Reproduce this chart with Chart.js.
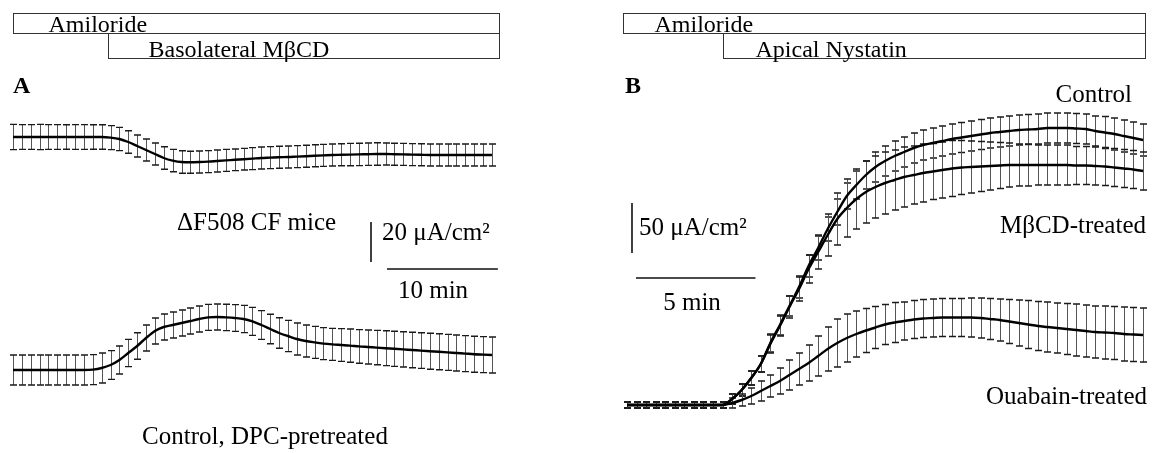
<!DOCTYPE html>
<html lang="en">
<head>
<meta charset="UTF-8">
<title>Short-circuit current traces</title>
<script src="https://cdn.jsdelivr.net/npm/chart.js"></script>
<style>
  body { margin: 0; background: #fff; }
  #wrap { position: relative; width: 1160px; height: 453px; }
  canvas { position: absolute; top: 0; }
  #chartA { left: 0; }
  #chartB { left: 580px; }
</style>
</head>
<body>
<div id="wrap">
  <canvas id="chartA" width="580" height="453"></canvas>
  <canvas id="chartB" width="580" height="453"></canvas>
</div>
<script>
// ---- panel A (uA/cm2, one sample every 0.8 min) ----
const minPerSampleA = 0.8;
const cfMean = [0,0,0,0,0,0,0,0,0,0,0,
  -0.3,-1,-2.5,-4.5,-6.5,-8.5,-10.5,-11.8,-12.5,-12.6,
  -12.5,-12.3,-12,-11.7,-11.4,-11.1,-10.8,-10.5,-10.3,-10.1,
  -10,-9.8,-9.6,-9.4,-9.2,-9,-8.9,-8.8,-8.7,-8.6,
  -8.5,-8.5,-8.6,-8.7,-8.8,-8.9,-9,-9,-9,-9,
  -9,-9,-9,-9];
const cfSem = [6.3,6.2,6.2,6.3,6.2,6.2,6.1,6.2,6.2,6.1,6.1,
  6,5.8,5.6,5.5,5.5,5.5,5.6,5.6,5.6,5.5,
  5.5,5.5,5.5,5.5,5.4,5.4,5.5,5.5,5.5,5.5,
  5.5,5.5,5.5,5.5,5.5,5.5,5.5,5.6,5.6,5.6,
  5.6,5.5,5.5,5.5,5.5,5.5,5.5,5.5,5.5,5.5,
  5.5,5.5,5.5,5.5];
const dpcMean = [0,0,0,0,0,0,0,0,0,0.2,1,
  2.5,5,8.5,12,16,19.5,21.5,22.5,23.5,24.5,
  25.5,26.3,26.5,26.3,26,25.5,24.3,22.5,20.5,18.5,
  17,15.5,14.5,13.8,13.2,12.8,12.5,12.2,11.8,11.5,
  11.2,10.9,10.6,10.3,10,9.7,9.4,9.1,8.8,8.5,
  8.2,7.9,7.7,7.5];
const dpcSem = [7.5,7.5,7.5,7.5,7.5,7.5,7.5,7.5,7.5,7.5,7.5,
  7.2,7,6.8,6.6,6.5,6.5,6.5,6.5,6.5,6.5,
  6.5,6.5,6.5,6.6,6.7,6.8,7,7.2,7.4,7.6,
  7.8,8,8,8,8,8,8.2,8.3,8.4,8.5,
  8.6,8.7,8.8,8.8,8.9,8.9,9,9,9,9,
  9,9,9,9];
const drugsA = [
  { label: 'Amiloride', start: 0, end: 43.8 },
  { label: 'Basolateral MβCD', start: 8.6, end: 43.8 }
];

// ---- panel B (uA/cm2, one sample every 0.4 min) ----
const minPerSampleB = 0.4;
const controlMean = [0,0,0,0,0,0,0,0,0,0,0,
  6,15,27,41,62,80,99,118,139,157,
  176,193,209,220,230,238,244,249,253,257,
  260,262,264,266,267.5,269,270.5,272,273,274,
  275,275.5,276,277,277,277,276.5,276,274,272.5,
  271,269,267,265];
const controlSem = [3,3,3,3,3,3,3,3,3,3,3,
  5,6,7,8,9,10,10,11,11,12,
  12,13,13,14,14,15,15,15,15,15,
  15,15,15,15,15,15,15,15,15,15,
  15,15,15,15,15,15,15,15,15,16,
  16,16,16,16];
const mbcdMean = [0,0,0,0,0,0,0,0,0,0,0,
  6,15,27,41,61,79,98,116,136,153,
  170,186,197,206,213,218,222,225,228,230,
  232,233.5,235,236.5,237.5,238,238.5,239,239.5,240,
  240,240,240,240,240,240,239.5,239.5,239,238.5,
  237.5,236.5,235.5,234];
const mbcdSem = [3,3,3,3,3,3,3,3,3,3,3,
  5,6,7,8,9,10,11,12,14,17,
  21,26,29,30,31,31,31,30,30,29,
  29,28,28,28,27,26,25,24,23,22,
  21,21,20,20,20,20,19,19,19,19,
  19,19,19,19];
const ouabainMean = [0,0,0,0,0,0,0,0,0,0,0,
  2,5,9,14,19,24,30,36,42,49,
  56,62,67,71,74.5,77.5,80.5,82.5,84,85.5,
  86.5,87,87.5,87.5,87.5,87.5,87,86,85,83.5,
  82,80.5,79,78,77,76,75,74,73,72.5,
  72,71,70.5,70];
const ouabainSem = [3,3,3,3,3,3,3,3,3,3,3,
  5,6,8,10,11,13,15,16,18,20,
  22,24,24,23,22,21,20,20,19,19,
  19,19,19,19,19,19.5,20,20.5,21,22,
  23,24,24.5,25,25,25.5,26,26,26,26.5,
  26.5,27,27,27];
const drugsB = [
  { label: 'Amiloride', start: -0.16, end: 21.7 },
  { label: 'Apical Nystatin', start: 4.0, end: 21.7 }
];

const serif = '"Liberation Serif", "Times New Roman", serif';

function toPoints(values, step) {
  return values.map((v, i) => ({ x: i * step, y: v }));
}

function trace(label, values, sem, step, axis) {
  return {
    label: label,
    data: toPoints(values, step),
    sem: sem,
    yAxisID: axis,
    borderColor: '#000',
    borderWidth: 2.4,
    pointRadius: 0,
    fill: false,
    cubicInterpolationMode: 'monotone'
  };
}

// error bars drawn under the mean lines
const errorBars = {
  id: 'errorBars',
  beforeDatasetsDraw(chart) {
    const ctx = chart.ctx;
    const xs = chart.scales.x;
    ctx.save();
    chart.data.datasets.forEach(ds => {
      const ys = chart.scales[ds.yAxisID];
      ds.data.forEach((p, i) => {
        const x = Math.round(xs.getPixelForValue(p.x)) + 0.5;
        const top = ys.getPixelForValue(p.y + ds.sem[i]);
        const bot = ys.getPixelForValue(p.y - ds.sem[i]);
        ctx.strokeStyle = '#555';
        ctx.lineWidth = 1;
        ctx.beginPath();
        ctx.moveTo(x, top);
        ctx.lineTo(x, bot);
        ctx.stroke();
        ctx.strokeStyle = '#1a1a1a';
        ctx.lineWidth = 1.4;
        ctx.beginPath();
        ctx.moveTo(x - 3.5, top);
        ctx.lineTo(x + 3.5, top);
        ctx.moveTo(x - 3.5, bot);
        ctx.lineTo(x + 3.5, bot);
        ctx.stroke();
      });
    });
    ctx.restore();
  }
};

// drug boxes, labels and scale bars
const figure = {
  id: 'figure',
  afterDraw(chart, args, opts) {
    const ctx = chart.ctx;
    const xs = chart.scales.x;
    ctx.save();
    ctx.fillStyle = '#000';
    ctx.textBaseline = 'alphabetic';

    const rows = [[13, 33], [33, 58]];
    opts.drugs.forEach((d, r) => {
      const x0 = Math.round(xs.getPixelForValue(d.start)) + 0.5;
      const x1 = Math.round(xs.getPixelForValue(d.end)) + 0.5;
      ctx.strokeStyle = '#333';
      ctx.lineWidth = 1;
      ctx.strokeRect(x0, rows[r][0] + 0.5, x1 - x0, rows[r][1] - rows[r][0]);
      ctx.font = '24px ' + serif;
      ctx.textAlign = 'left';
      ctx.fillText(d.label, x0 + opts.drugIndent[r], rows[r][1] - 1);
    });

    ctx.textBaseline = 'middle';
    ctx.font = 'bold 24px ' + serif;
    ctx.textAlign = 'left';
    ctx.fillText(opts.letter.text, opts.letter.x, opts.letter.y);

    opts.labels.forEach(l => {
      ctx.font = '25px ' + serif;
      ctx.textAlign = l.align;
      ctx.fillText(l.text, l.x, l.y);
    });

    const sb = opts.scaleBar;
    const ys = chart.scales[sb.axis];
    const hLen = xs.getPixelForValue(sb.minutes) - xs.getPixelForValue(0);
    const vLen = ys.getPixelForValue(0) - ys.getPixelForValue(sb.current);
    ctx.strokeStyle = '#111';
    ctx.lineWidth = 1.6;
    ctx.beginPath();
    ctx.moveTo(sb.vx, sb.vBottom);
    ctx.lineTo(sb.vx, sb.vBottom - vLen);
    ctx.moveTo(sb.hx, sb.hy);
    ctx.lineTo(sb.hx + hLen, sb.hy);
    ctx.stroke();
    ctx.restore();
  }
};

function baseOptions(xMin, xMax, yScales, fig) {
  const scales = { x: { type: 'linear', display: false, min: xMin, max: xMax } };
  Object.keys(yScales).forEach(k => {
    scales[k] = { type: 'linear', display: false, min: yScales[k][0], max: yScales[k][1] };
  });
  return {
    responsive: false,
    animation: false,
    layout: { padding: 0 },
    plugins: { legend: { display: false }, tooltip: { enabled: false }, figure: fig },
    scales: scales
  };
}

new Chart(document.getElementById('chartA'), {
  type: 'line',
  data: {
    datasets: [
      trace('ΔF508 CF mice', cfMean, cfSem, minPerSampleA, 'yTop'),
      trace('Control, DPC-pretreated', dpcMean, dpcSem, minPerSampleA, 'yBot')
    ]
  },
  options: baseOptions(-1.17, 51.14, { yTop: [-158, 68.5], yBot: [-41.5, 185] }, {
    drugs: drugsA,
    drugIndent: [35, 40],
    letter: { text: 'A', x: 13, y: 87 },
    labels: [
      { text: 'ΔF508 CF mice', x: 177, y: 223, align: 'left' },
      { text: '20 μA/cm²', x: 382, y: 233, align: 'left' },
      { text: '10 min', x: 433, y: 291, align: 'center' },
      { text: 'Control, DPC-pretreated', x: 265, y: 437, align: 'center' }
    ],
    scaleBar: { axis: 'yTop', current: 20, minutes: 10, vx: 371, vBottom: 262, hx: 387, hy: 269 }
  }),
  plugins: [errorBars, figure]
});

new Chart(document.getElementById('chartB'), {
  type: 'line',
  data: {
    datasets: [
      trace('Control', controlMean, controlSem, minPerSampleB, 'y'),
      trace('MβCD-treated', mbcdMean, mbcdSem, minPerSampleB, 'y'),
      trace('Ouabain-treated', ouabainMean, ouabainSem, minPerSampleB, 'y')
    ]
  },
  options: baseOptions(-1.967, 22.31, { y: [-48, 405] }, {
    drugs: drugsB,
    drugIndent: [31, 32],
    letter: { text: 'B', x: 45, y: 87 },
    labels: [
      { text: 'Control', x: 552, y: 95, align: 'right' },
      { text: 'MβCD-treated', x: 566, y: 226, align: 'right' },
      { text: 'Ouabain-treated', x: 567, y: 397, align: 'right' },
      { text: '50 μA/cm²', x: 59, y: 228, align: 'left' },
      { text: '5 min', x: 112, y: 303, align: 'center' }
    ],
    scaleBar: { axis: 'y', current: 50, minutes: 5, vx: 52, vBottom: 253, hx: 56, hy: 278 }
  }),
  plugins: [errorBars, figure]
});
</script>
</body>
</html>
